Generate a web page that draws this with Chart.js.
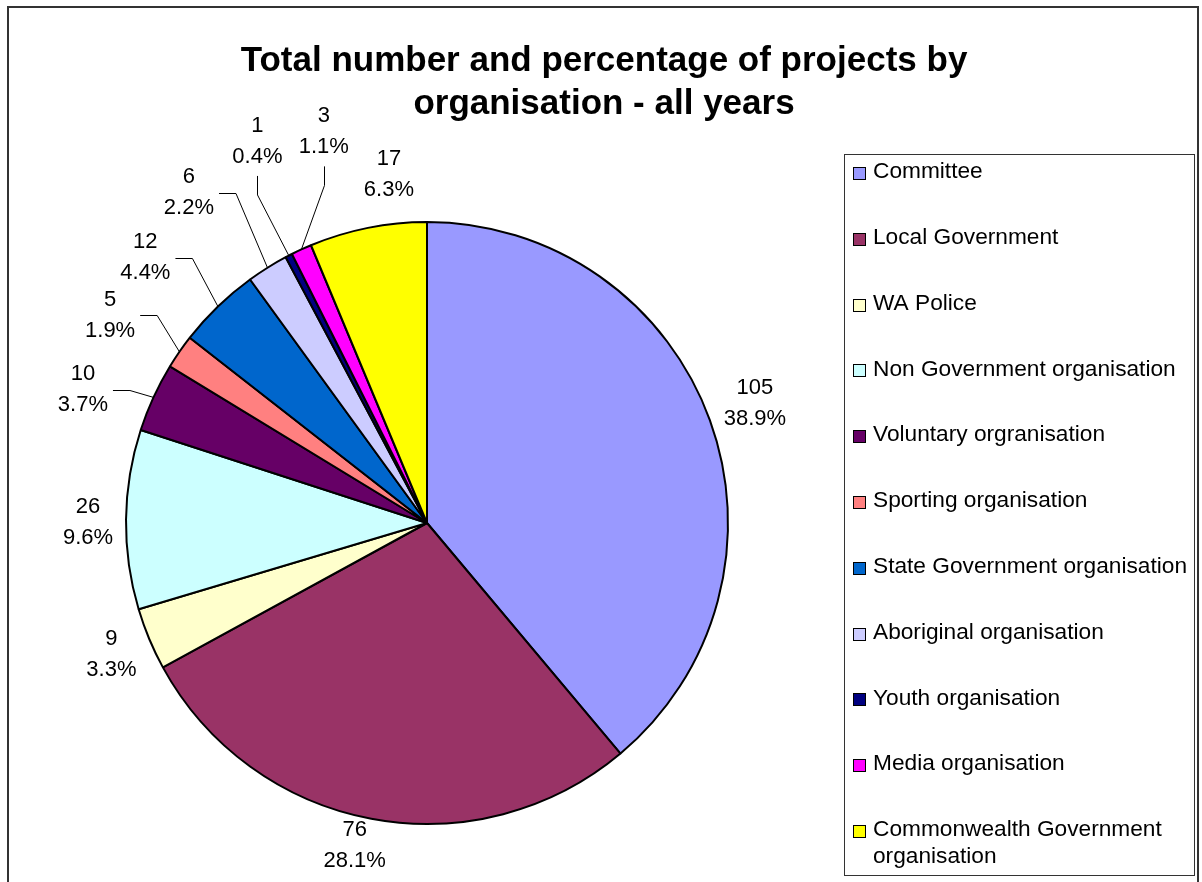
<!DOCTYPE html>
<html>
<head>
<meta charset="utf-8">
<title>Projects by organisation</title>
<script src="https://cdn.jsdelivr.net/npm/chart.js@4.4.0/dist/chart.umd.min.js"></script>
<style>
  html, body { margin: 0; padding: 0; background: #fff; }
  canvas { display: block; }
</style>
</head>
<body>
<canvas id="chart" width="1202" height="882"></canvas>
<script>
// data
const categories = [
  'Committee',
  'Local Government',
  'WA Police',
  'Non Government organisation',
  'Voluntary orgranisation',
  'Sporting organisation',
  'State Government organisation',
  'Aboriginal organisation',
  'Youth organisation',
  'Media organisation',
  'Commonwealth Government organisation'
];
const projectCounts = [105, 76, 9, 26, 10, 5, 12, 6, 1, 3, 17];
const sliceColours = [
  '#9999FF', '#993366', '#FFFFCC', '#CCFFFF', '#660066', '#FF8080',
  '#0066CC', '#CCCCFF', '#000080', '#FF00FF', '#FFFF00'
];
const titleLines = ['Total number and percentage of projects by', 'organisation - all years'];

const FONT = '"Liberation Sans", Arial, sans-serif';

// where each value label sits relative to its slice (angle shift in deg, distance past the rim)
const labelPlacement = [
  { shift: 0, dr: 48 },
  { shift: 2, dr: 29 },
  { shift: 0, dr: 41 },
  { shift: -0.5, dr: 38 },
  { shift: -3.5, dr: 68, leader: 'h' },
  { shift: -1.4, dr: 78, leader: 'h' },
  { shift: -2.7, dr: 86, leader: 'h' },
  { shift: -3.8, dr: 106, leader: 'h' },
  { shift: 3.4, dr: 117, leader: 'v' },
  { shift: 9.9, dr: 104, leader: 'v' },
  { shift: 5.1, dr: 50 }
];

function wrapWords(ctx, text, maxWidth) {
  const words = text.split(' ');
  const lines = [];
  let cur = '';
  words.forEach(w => {
    const test = cur ? cur + ' ' + w : w;
    if (ctx.measureText(test).width > maxWidth && cur) {
      lines.push(cur);
      cur = w;
    } else {
      cur = test;
    }
  });
  if (cur) lines.push(cur);
  return lines;
}

const excelLook = {
  id: 'excelLook',
  beforeDraw(chart) {
    const ctx = chart.ctx;
    ctx.save();
    ctx.fillStyle = '#fff';
    ctx.fillRect(0, 0, chart.width, chart.height);
    ctx.restore();
  },
  afterDatasetsDraw(chart) {
    const ctx = chart.ctx;
    const meta = chart.getDatasetMeta(0);
    const values = chart.data.datasets[0].data;
    const total = values.reduce((a, b) => a + b, 0);
    ctx.save();
    ctx.font = '22px ' + FONT;
    ctx.fillStyle = '#000';
    ctx.textAlign = 'center';
    ctx.textBaseline = 'middle';
    meta.data.forEach((arc, i) => {
      const { x, y, startAngle, endAngle, outerRadius } =
        arc.getProps(['x', 'y', 'startAngle', 'endAngle', 'outerRadius'], true);
      const mid = (startAngle + endAngle) / 2;
      const p = labelPlacement[i];
      const a = mid + p.shift * Math.PI / 180;
      const lx = x + (outerRadius + p.dr) * Math.cos(a);
      const ly = y + (outerRadius + p.dr) * Math.sin(a);
      const line1 = String(values[i]);
      const line2 = (values[i] / total * 100).toFixed(1) + '%';
      ctx.fillText(line1, lx, ly - 15.5);
      ctx.fillText(line2, lx, ly + 15.5);

      if (p.leader) {
        const ex = x + outerRadius * Math.cos(mid);
        const ey = y + outerRadius * Math.sin(mid);
        ctx.beginPath();
        if (p.leader === 'h') {
          const w = Math.max(ctx.measureText(line1).width, ctx.measureText(line2).width);
          const sx = lx + w / 2 + 5;
          const sy = Math.round(ly) + 0.5;
          ctx.moveTo(sx, sy);
          ctx.lineTo(sx + 17, sy);
          ctx.lineTo(ex, ey);
        } else {
          const sx = Math.round(lx) + 0.5;
          ctx.moveTo(sx, ly + 35);
          ctx.lineTo(sx, ly + 54);
          ctx.lineTo(ex, ey);
        }
        ctx.lineWidth = 1;
        ctx.strokeStyle = '#000';
        ctx.stroke();
      }
    });
    ctx.restore();
  },
  afterDraw(chart) {
    const ctx = chart.ctx;
    const ds = chart.data.datasets[0];
    ctx.save();

    // outer frame (bottom edge is cut off in the original)
    ctx.strokeStyle = '#333';
    ctx.lineWidth = 2;
    ctx.beginPath();
    ctx.moveTo(8, 890);
    ctx.lineTo(8, 7);
    ctx.lineTo(1198, 7);
    ctx.lineTo(1198, 890);
    ctx.stroke();

    // title
    ctx.fillStyle = '#000';
    ctx.textAlign = 'center';
    ctx.textBaseline = 'alphabetic';
    ctx.font = 'bold 35px ' + FONT;
    ctx.fillText(titleLines[0], 604, 71);
    ctx.fillText(titleLines[1], 604, 114);

    // legend box
    ctx.strokeStyle = '#333';
    ctx.lineWidth = 1;
    ctx.strokeRect(844.5, 154.5, 350, 721);

    ctx.font = '22.7px ' + FONT;
    ctx.textAlign = 'left';
    ctx.textBaseline = 'middle';
    chart.data.labels.forEach((name, i) => {
      const rowY = 172 + i * 65.8;
      ctx.fillStyle = ds.backgroundColor[i];
      ctx.fillRect(853, Math.round(rowY) - 5, 12, 12);
      ctx.strokeStyle = '#000';
      ctx.strokeRect(853.5, Math.round(rowY) - 4.5, 12, 12);
      ctx.fillStyle = '#000';
      wrapWords(ctx, name, 318).forEach((ln, k) => {
        ctx.fillText(ln, 873, rowY + k * 27);
      });
    });
    ctx.restore();
  }
};

new Chart(document.getElementById('chart'), {
  type: 'pie',
  data: {
    labels: categories,
    datasets: [{
      data: projectCounts,
      backgroundColor: sliceColours,
      borderColor: '#000',
      borderWidth: 2
    }]
  },
  options: {
    responsive: false,
    animation: false,
    devicePixelRatio: 1,
    layout: { padding: { left: 125, right: 473, top: 221, bottom: 57 } },
    plugins: {
      legend: { display: false },
      title: { display: false },
      tooltip: { enabled: false }
    }
  },
  plugins: [excelLook]
});
</script>
</body>
</html>
